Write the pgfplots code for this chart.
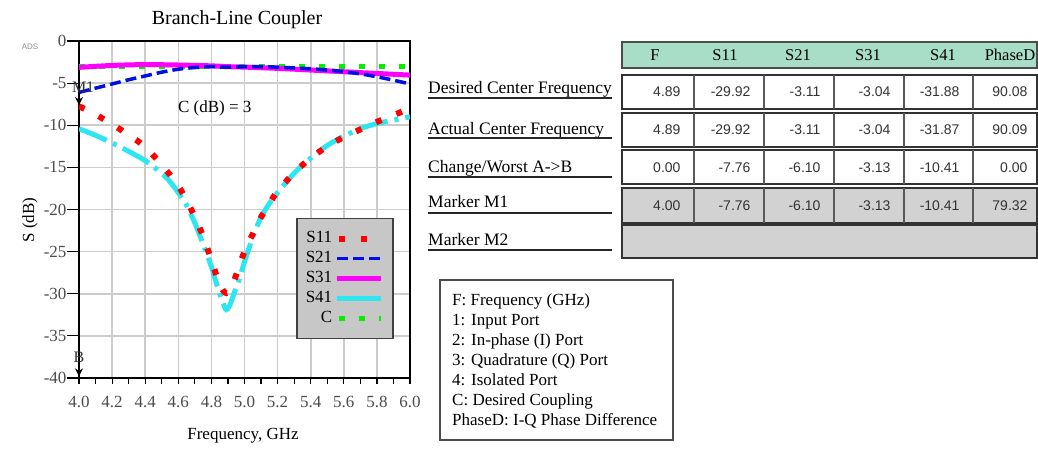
\documentclass[border=0pt]{standalone}
\usepackage{fontspec}
\setmainfont{Liberation Serif}
\newfontfamily\arialf{Liberation Sans}
\usepackage{pgfplots}
\pgfplotsset{compat=1.18}
\usetikzlibrary{arrows.meta}
\definecolor{hdr}{HTML}{A8DEC8}
\definecolor{rowgray}{HTML}{D2D2D2}
\definecolor{sred}{HTML}{FF0000}
\definecolor{sblue}{HTML}{0010E0}
\definecolor{smag}{HTML}{FF00FF}
\definecolor{scyan}{HTML}{2EE6F0}
\definecolor{sgreen}{HTML}{00F000}
\begin{document}
\begin{tikzpicture}[x=1pt,y=1pt]
\path[use as bounding box] (0,0) rectangle (1038,448);
\begin{axis}[
  at={(79pt,70pt)}, anchor=south west, scale only axis,
  width=331pt, height=337pt,
  xmin=4, xmax=6, ymin=-40, ymax=0,
  clip mode=individual,
  xtick={4.0,4.2,4.4,4.6,4.8,5.0,5.2,5.4,5.6,5.8,6.0},
  xticklabels={4.0,4.2,4.4,4.6,4.8,5.0,5.2,5.4,5.6,5.8,6.0},
  minor xtick={4.0,4.1,4.2,4.3,4.4,4.5,4.6,4.7,4.8,4.9,5.0,5.1,5.2,5.3,5.4,5.5,5.6,5.7,5.8,5.9,6.0},
  ytick={-40,-35,-30,-25,-20,-15,-10,-5,0},
  yticklabels={-40,-35,-30,-25,-20,-15,-10,-5,0},
  xtick pos=lower, ytick pos=left,
  tick align=outside,
  major tick length=12pt, minor tick length=6pt,
  major x tick style={draw=none},
  tick style={line width=1.2pt, black},
  grid=major,
  major grid style={line width=1.6pt, color=black!20},
  axis line style={line width=1.8pt, black},
  ticklabel style={font=\fontsize{17}{17}\selectfont, text=black!70},
  xticklabel style={yshift=-3pt},
  yticklabel style={xshift=3pt},
  legend plot pos=right,
  legend cell align=right,
  legend image code/.code={\draw[#1] (0pt,0pt) -- (44pt,0pt);},
  legend style={at={(axis description cs:0.6556,0.4748)}, anchor=north west,
    fill=black!22, draw=black!75, line width=1.5pt,
    font=\fontsize{17}{17}\selectfont,
    nodes={inner sep=0pt, text height=12pt, text depth=4pt},
    row sep=4pt, column sep=2pt, inner xsep=9pt, inner ysep=12pt},
]
% S41
\addplot[forget plot, scyan, line width=5pt, smooth, dash pattern=on 30pt off 7pt on 4pt off 7pt] coordinates {
(4.00,-10.41) (4.10,-11.2) (4.20,-12.1) (4.30,-13.1) (4.40,-14.2) (4.50,-15.7) (4.55,-16.7) (4.60,-18.0) (4.65,-19.5) (4.70,-21.6) (4.75,-24.1) (4.80,-26.8) (4.84,-29.4) (4.87,-31.1) (4.89,-31.88) (4.91,-31.4) (4.94,-29.8) (4.97,-28.2) (5.00,-26.2) (5.05,-23.3) (5.10,-20.9) (5.15,-19.3) (5.20,-18.0) (5.30,-15.7) (5.40,-13.9) (5.50,-12.4) (5.60,-11.3) (5.70,-10.4) (5.80,-9.8) (5.90,-9.4) (6.00,-9.0)};
% S11
\addplot[forget plot, sred, line width=6pt, smooth, dash pattern=on 6pt off 16pt] coordinates {
(4.00,-7.76) (4.05,-8.2) (4.10,-8.7) (4.15,-9.3) (4.20,-9.9) (4.25,-10.5) (4.30,-11.2) (4.35,-11.8) (4.40,-12.6) (4.45,-13.6) (4.50,-14.7) (4.55,-15.9) (4.60,-17.2) (4.65,-18.9) (4.70,-20.9) (4.75,-23.2) (4.80,-26.0) (4.84,-28.4) (4.87,-29.6) (4.89,-29.92) (4.91,-29.6) (4.94,-28.3) (4.97,-26.6) (5.00,-25.0) (5.05,-22.9) (5.10,-20.9) (5.15,-19.3) (5.20,-17.8) (5.25,-16.7) (5.30,-15.6) (5.40,-13.9) (5.50,-12.5) (5.60,-11.4) (5.70,-10.5) (5.80,-9.6) (5.90,-8.8) (6.00,-8.0)};
% C
\addplot[forget plot, sgreen, line width=5pt, dash pattern=on 6pt off 14pt] coordinates {(4.0,-3) (6.0,-3)};
% S31
\addplot[forget plot, smag, line width=5pt, smooth] coordinates {
(4.00,-3.13) (4.20,-2.9) (4.40,-2.8) (4.60,-2.85) (4.80,-2.95) (4.89,-3.04) (5.00,-3.1) (5.20,-3.25) (5.40,-3.45) (5.60,-3.65) (5.80,-3.85) (6.00,-4.05)};
% S21
\addplot[forget plot, sblue, line width=3.5pt, smooth, dash pattern=on 11pt off 5pt] coordinates {
(4.00,-6.10) (4.10,-5.6) (4.20,-5.1) (4.30,-4.6) (4.40,-4.15) (4.50,-3.7) (4.60,-3.35) (4.70,-3.15) (4.80,-3.05) (4.89,-3.11) (5.00,-3.05) (5.10,-3.05) (5.20,-3.1) (5.30,-3.2) (5.40,-3.3) (5.50,-3.45) (5.60,-3.65) (5.70,-3.9) (5.80,-4.25) (5.90,-4.65) (6.00,-5.1)};
\addlegendimage{sred, line width=6pt, dash pattern=on 6pt off 16pt, dash phase=-2pt}
\addlegendentry{S11}
\addlegendimage{sblue, line width=3.5pt, dash pattern=on 11pt off 5pt}
\addlegendentry{S21}
\addlegendimage{smag, line width=5pt}
\addlegendentry{S31}
\addlegendimage{scyan, line width=5pt}
\addlegendentry{S41}
\addlegendimage{sgreen, line width=5pt, dash pattern=on 6pt off 14pt, dash phase=-2pt}
\addlegendentry{C}
\node[font=\fontsize{17}{17}\selectfont] at (axis cs:4.82,-7.95) {C (dB) = 3};
\node[font=\fontsize{16}{16}\selectfont, text=black!80] at (axis cs:4.025,-5.5) {M1};
\draw[-{Stealth[length=8pt,width=8pt]}, line width=1.5pt] (axis cs:4,-6.2) -- (axis cs:4,-7.6);
\node[font=\fontsize{16}{16}\selectfont, text=black!80] at (axis cs:4.0,-37.5) {B};
\draw[-{Stealth[length=8pt,width=8pt]}, line width=1.5pt] (axis cs:4,-38.4) -- (axis cs:4,-39.8);
\end{axis}
% titles and labels
\node[font=\fontsize{20}{20}\selectfont] at (237,428) {Branch-Line Coupler};
\node[font=\fontsize{17}{17}\selectfont] at (243,12) {Frequency, GHz};
\node[font=\fontsize{17}{17}\selectfont, rotate=90] at (30,228) {S (dB)};
\node[font=\arialf\fontsize{8}{8}\selectfont, text=black!45] at (30,401) {ADS};
% table header
\fill[hdr] (622,380) rectangle (1037,406);
\draw[black!70, line width=1.2pt] (622,380) rectangle (1037,406);
\foreach \x/\t in {655/F, 725/S11, 798/S21, 868/S31, 943/S41, 1010/PhaseD}
  \node[font=\fontsize{16.5}{16.5}\selectfont, anchor=base] at (\x,387) {\t};
% rows
\fill[rowgray] (622,225) rectangle (1037,260);
\fill[rowgray] (622,190) rectangle (1037,223);
\foreach \yb/\yt in {339/373, 301/335, 264/298, 225/260}{
  \draw[black!80, line width=1.8pt] (622,\yb) rectangle (1037,\yt);
  \foreach \x in {694,764,834,904,973}
    \draw[black!65, line width=1.2pt] (\x,\yb) -- (\x,\yt);
}
\draw[black!80, line width=1.8pt] (622,190) rectangle (1037,223);
% values
\def\rowvals#1#2#3#4#5#6#7{%
  \node[font=\arialf\fontsize{14}{14}\selectfont, text=black!80, anchor=base east] at (684,#1) {#2};
  \node[font=\arialf\fontsize{14}{14}\selectfont, text=black!80, anchor=base east] at (754,#1) {#3};
  \node[font=\arialf\fontsize{14}{14}\selectfont, text=black!80, anchor=base east] at (824,#1) {#4};
  \node[font=\arialf\fontsize{14}{14}\selectfont, text=black!80, anchor=base east] at (894,#1) {#5};
  \node[font=\arialf\fontsize{14}{14}\selectfont, text=black!80, anchor=base east] at (963,#1) {#6};
  \node[font=\arialf\fontsize{14}{14}\selectfont, text=black!80, anchor=base east] at (1031,#1) {#7};}
\rowvals{351}{4.89}{-29.92}{-3.11}{-3.04}{-31.88}{90.08}
\rowvals{313}{4.89}{-29.92}{-3.11}{-3.04}{-31.87}{90.09}
\rowvals{276}{0.00}{-7.76}{-6.10}{-3.13}{-10.41}{0.00}
\rowvals{238}{4.00}{-7.76}{-6.10}{-3.13}{-10.41}{79.32}
% row labels
\foreach \yb/\yu/\t in {354/350/{Desired Center Frequency}, 313/310/{Actual Center Frequency}, 276/271/{Change/Worst A->B}, 241/235/{Marker M1}, 203/198/{Marker M2}}{
  \node[font=\fontsize{17.5}{17.5}\selectfont, anchor=base west, inner sep=0pt] at (428,\yb) {\t};
  \draw[black!85, line width=1.6pt] (428,\yu) -- (612,\yu);
}
% description box
\draw[black!70, line width=1.3pt] (440,8) rectangle (673,168);
\foreach \i/\t in {0/{F: Frequency (GHz)}, 1/{1: Input Port}, 2/{2: In-phase (I) Port}, 3/{3: Quadrature (Q) Port}, 4/{4: Isolated Port}, 5/{C: Desired Coupling}, 6/{PhaseD: I-Q Phase Difference}}
  \node[font=\fontsize{17}{17}\selectfont, anchor=base west, inner sep=0pt] at (452,143-20*\i) {\t};
\end{tikzpicture}
\end{document}
